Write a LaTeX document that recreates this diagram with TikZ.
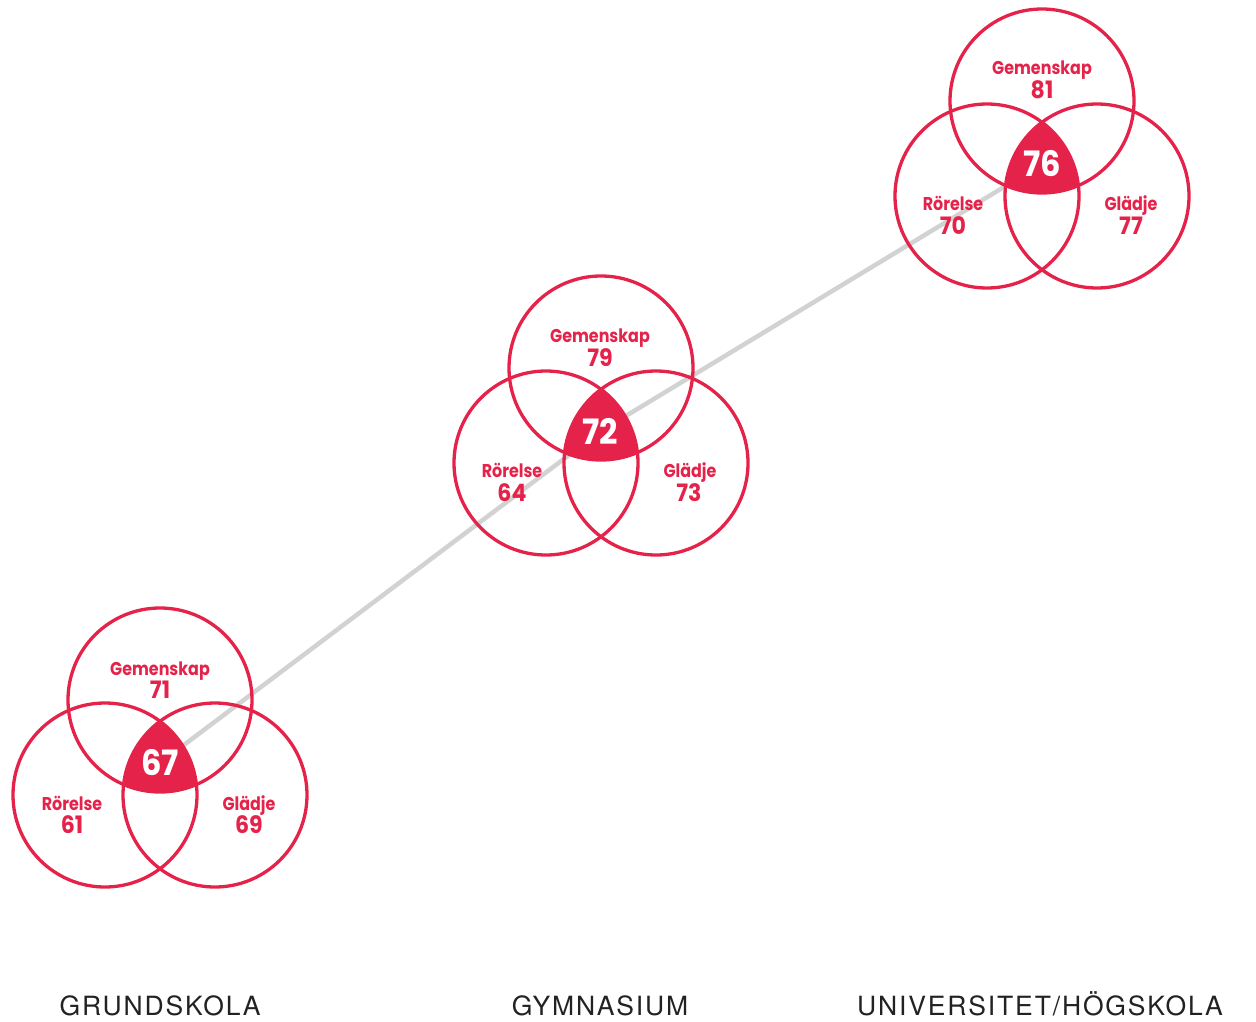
\documentclass[tikz,border=0pt]{standalone}
\usepackage{fontspec}
\newfontfamily\labelfont{Poppins}[FakeStretch=0.86]
\newfontfamily\numfont{Poppins}[FakeStretch=0.92]
\newfontfamily\axisfont{TeX Gyre Heros}[LetterSpace=7]
\usetikzlibrary{positioning}
\definecolor{vennred}{HTML}{E5234A}
\definecolor{trendgray}{HTML}{D2D2D2}
\definecolor{axisgray}{HTML}{222222}

\begin{document}
\begin{tikzpicture}[x=1pt,y=-1pt,
  ring/.style={draw=vennred,line width=3.3pt},
  trend/.style={draw=trendgray,line width=4.5pt},
  area/.style={text=vennred,font=\labelfont\bfseries\fontsize{18.5}{18.5}\selectfont,inner sep=0pt,anchor=base},
  score/.style={text=vennred,font=\numfont\bfseries\fontsize{24}{24}\selectfont,inner sep=0pt,anchor=base},
  core/.style={text=white,font=\numfont\bfseries\fontsize{35}{35}\selectfont,inner sep=0pt,anchor=base},
  level/.style={text=axisgray,font=\axisfont\fontsize{26.5}{26.5}\selectfont,inner sep=0pt,anchor=base}]
\useasboundingbox (0,0) rectangle (1256,1022);
%
\coordinate (g1) at (160,763);
\coordinate (g2) at (601,431);
\coordinate (g3) at (1042,164);
\draw[trend] (g1) -- (g2) -- (g3);
%
% grundskola
\begin{scope}
\clip (160,700) circle (92);
\clip (105,795) circle (92);
\fill[vennred] (215,795) circle (92);
\end{scope}
\draw[ring] (160,700) circle (92);
\draw[ring] (105,795) circle (92);
\draw[ring] (215,795) circle (92);
\node[area] (gem1) at (160,675) {Gemenskap};
\node[score] (gemv1) at (160,698) {71};
\node[area] (ror1) at (72,810) {Rörelse};
\node[score] (rorv1) at (72,833) {61};
\node[area] (gla1) at (249,810) {Glädje};
\node[score] (glav1) at (249,833) {69};
\node[core] (c1) at (160,775) {67};
%
% gymnasium
\begin{scope}
\clip (601,368) circle (92);
\clip (546,463) circle (92);
\fill[vennred] (656,463) circle (92);
\end{scope}
\draw[ring] (601,368) circle (92);
\draw[ring] (546,463) circle (92);
\draw[ring] (656,463) circle (92);
\node[area] (gem2) at (600,342) {Gemenskap};
\node[score] (gemv2) at (600,366) {79};
\node[area] (ror2) at (512,477) {Rörelse};
\node[score] (rorv2) at (512,501) {64};
\node[area] (gla2) at (690,477) {Glädje};
\node[score] (glav2) at (689,501) {73};
\node[core] (c2) at (600,444) {72};
%
% universitet/hogskola
\begin{scope}
\clip (1042,101) circle (92);
\clip (987,196) circle (92);
\fill[vennred] (1097,196) circle (92);
\end{scope}
\draw[ring] (1042,101) circle (92);
\draw[ring] (987,196) circle (92);
\draw[ring] (1097,196) circle (92);
\node[area] (gem3) at (1042,75) {Gemenskap};
\node[score] (gemv3) at (1042,99) {81};
\node[area] (ror3) at (953,210) {Rörelse};
\node[score] (rorv3) at (953,234) {70};
\node[area] (gla3) at (1131,210) {Glädje};
\node[score] (glav3) at (1131,234) {77};
\node[core] (c3) at (1042,176) {76};
%
\node[level] (l1) at (160,1015) {GRUNDSKOLA};
\node[level] (l2) at (600,1015) {GYMNASIUM};
\node[level] (l3) at (1040,1015) {UNIVERSITET/HÖGSKOLA};
\end{tikzpicture}
\end{document}
